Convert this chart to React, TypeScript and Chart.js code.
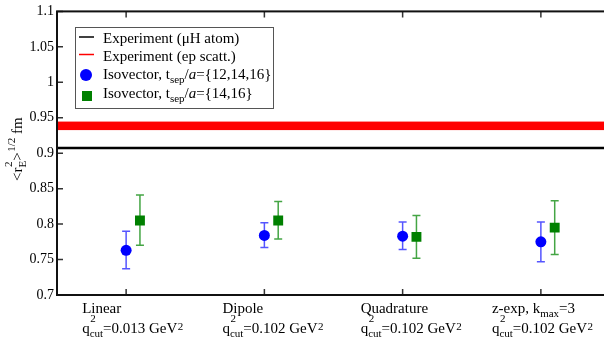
import React, { useEffect, useRef } from "react";
import { Chart, registerables } from "chart.js";

Chart.register(...registerables);

// ---- data ----
const categories = ["Linear", "Dipole", "Quadrature", "z-exp"];
const categoryExtra = ["", "", "", "kmax=3"];
const qcutValues = ["0.013", "0.102", "0.102", "0.102"];

const blueValues = [0.763, 0.784, 0.783, 0.775];
const blueLow = [0.737, 0.767, 0.764, 0.747];
const blueHigh = [0.790, 0.802, 0.803, 0.803];

const greenValues = [0.805, 0.805, 0.782, 0.795];
const greenLow = [0.770, 0.779, 0.752, 0.757];
const greenHigh = [0.841, 0.832, 0.812, 0.833];

const expMuH = 0.9073;
const expEpLow = 0.9326;
const expEpHigh = 0.9446;

const yTicks = [0.7, 0.75, 0.8, 0.85, 0.9, 0.95, 1, 1.05, 1.1];

// ---- layout / style ----
const FONT = '"Liberation Serif", "Times New Roman", serif';
const BLUE = "#0000ff";
const BLUE_ERR = "#5555ff";
const GREEN = "#008000";
const GREEN_ERR = "#44a544";
const GREEN_OFFSET = 0.1;
const labelShift = [-44, -42, -42, -49];

type Seg = { t?: string; sub?: string; sup?: string; it?: boolean; supUp?: number };

function drawRich(
  ctx: CanvasRenderingContext2D,
  segs: Seg[],
  x: number,
  y: number,
  size: number,
  draw = true
): number {
  let cx = x;
  const small = Math.round(size * 0.7);
  for (const s of segs) {
    if (s.t) {
      ctx.font = `${s.it ? "italic " : ""}${size}px ${FONT}`;
      if (draw) ctx.fillText(s.t, cx, y);
      cx += ctx.measureText(s.t).width;
    }
    let w = 0;
    ctx.font = `${small}px ${FONT}`;
    if (s.sup) {
      const up = s.supUp !== undefined ? s.supUp : 0.42;
      if (draw) ctx.fillText(s.sup, cx + 0.5, y - size * up);
      w = Math.max(w, ctx.measureText(s.sup).width + 0.5);
    }
    if (s.sub) {
      if (draw) ctx.fillText(s.sub, cx, y + size * 0.28);
      w = Math.max(w, ctx.measureText(s.sub).width);
    }
    cx += w;
  }
  return cx - x;
}

const overlayPlugin = {
  id: "overlay",
  beforeDatasetsDraw(chart: any) {
    const { ctx, chartArea, scales } = chart;
    const xs = scales.x;
    const ys = scales.y;
    ctx.save();
    // red band
    const yTop = ys.getPixelForValue(expEpHigh);
    const yBot = ys.getPixelForValue(expEpLow);
    ctx.fillStyle = "#ff0000";
    ctx.fillRect(chartArea.left, yTop, chartArea.right - chartArea.left, yBot - yTop);
    // black line
    ctx.strokeStyle = "#000";
    ctx.lineWidth = 2.6;
    const yl = ys.getPixelForValue(expMuH);
    ctx.beginPath();
    ctx.moveTo(chartArea.left, yl);
    ctx.lineTo(chartArea.right, yl);
    ctx.stroke();
    // error bars
    const drawErr = (xv: number, lo: number, hi: number, color: string) => {
      const px = xs.getPixelForValue(xv);
      const p1 = ys.getPixelForValue(lo);
      const p2 = ys.getPixelForValue(hi);
      ctx.strokeStyle = color;
      ctx.lineWidth = 1.5;
      ctx.beginPath();
      ctx.moveTo(px, p1);
      ctx.lineTo(px, p2);
      ctx.moveTo(px - 4, p1);
      ctx.lineTo(px + 4, p1);
      ctx.moveTo(px - 4, p2);
      ctx.lineTo(px + 4, p2);
      ctx.stroke();
    };
    categories.forEach((_, i) => {
      drawErr(i + 1, blueLow[i], blueHigh[i], BLUE_ERR);
      drawErr(i + 1 + GREEN_OFFSET, greenLow[i], greenHigh[i], GREEN_ERR);
    });
    ctx.restore();
  },
  afterDraw(chart: any) {
    const { ctx, chartArea, scales } = chart;
    const xs = scales.x;
    const ys = scales.y;
    const { left, right, top, bottom } = chartArea;
    ctx.save();
    // ticks (inward)
    ctx.strokeStyle = "#333";
    ctx.lineWidth = 1.5;
    ctx.beginPath();
    categories.forEach((_, i) => {
      const px = xs.getPixelForValue(i + 1);
      ctx.moveTo(px, bottom);
      ctx.lineTo(px, bottom - 6);
      ctx.moveTo(px, top);
      ctx.lineTo(px, top + 6);
    });
    yTicks.forEach((v) => {
      const py = ys.getPixelForValue(v);
      ctx.moveTo(left, py);
      ctx.lineTo(left + 6, py);
      ctx.moveTo(right, py);
      ctx.lineTo(right - 6, py);
    });
    ctx.stroke();
    // frame
    ctx.strokeStyle = "#111";
    ctx.lineWidth = 2;
    ctx.strokeRect(left, top, right - left, bottom - top);

    // legend
    ctx.fillStyle = "#fff";
    ctx.fillRect(76, 28, 197, 80);
    ctx.strokeStyle = "#555";
    ctx.lineWidth = 1;
    ctx.strokeRect(75.5, 27.5, 198, 81);
    ctx.lineWidth = 1.5;
    ctx.strokeStyle = "#000";
    ctx.beginPath();
    ctx.moveTo(79, 37);
    ctx.lineTo(94, 37);
    ctx.stroke();
    ctx.strokeStyle = "#ff0000";
    ctx.beginPath();
    ctx.moveTo(79, 54.5);
    ctx.lineTo(94, 54.5);
    ctx.stroke();
    ctx.fillStyle = BLUE;
    ctx.beginPath();
    ctx.arc(86, 75, 6, 0, Math.PI * 2);
    ctx.fill();
    ctx.fillStyle = GREEN;
    ctx.fillRect(82, 91, 10, 10);

    ctx.fillStyle = "#000";
    ctx.textAlign = "left";
    ctx.textBaseline = "alphabetic";
    const lf = 15;
    drawRich(ctx, [{ t: "Experiment (μH atom)" }], 103, 43, lf);
    drawRich(ctx, [{ t: "Experiment (ep scatt.)" }], 103, 60.5, lf);
    drawRich(ctx, [{ t: "Isovector, t", sub: "sep" }, { t: "/" }, { t: "a", it: true }, { t: "={12,14,16}" }], 103, 79, lf);
    drawRich(ctx, [{ t: "Isovector, t", sub: "sep" }, { t: "/" }, { t: "a", it: true }, { t: "={14,16}" }], 103, 97.5, lf);

    // x labels
    const xf = 15;
    categories.forEach((c, i) => {
      const px = xs.getPixelForValue(i + 1) + labelShift[i];
      if (categoryExtra[i]) {
        drawRich(ctx, [{ t: c + ", k", sub: "max" }, { t: "=3" }], px, 312.5, xf);
      } else {
        drawRich(ctx, [{ t: c }], px, 312.5, xf);
      }
      drawRich(
        ctx,
        [{ t: "q", sup: "2", sub: "cut", supUp: 0.72 }, { t: "=" + qcutValues[i] + " GeV", sup: "2", supUp: 0.2 }],
        px,
        333,
        xf
      );
    });

    // y title
    const tf = 15;
    const titleSegs: Seg[] = [{ t: "<r", sup: "2", sub: "E", supUp: 0.7 }, { t: ">", sup: "1/2", supUp: 0.45 }, { t: " fm" }];
    const tw = drawRich(ctx, titleSegs, 0, 0, tf, false);
    ctx.translate(22, (top + bottom) / 2 - 4);
    ctx.rotate(-Math.PI / 2);
    drawRich(ctx, titleSegs, -tw / 2, 0, tf);
    ctx.restore();
  },
};

export default function App() {
  const ref = useRef<HTMLCanvasElement>(null);
  useEffect(() => {
    document.body.style.margin = "0";
    document.body.style.overflow = "hidden";
    const canvas = ref.current!;
    const chart = new Chart(canvas, {
      type: "scatter",
      data: {
        datasets: [
          {
            label: "blue",
            data: blueValues.map((v, i) => ({ x: i + 1, y: v })),
            backgroundColor: BLUE,
            borderColor: BLUE,
            pointStyle: "circle",
            pointRadius: 5.5,
            borderWidth: 0,
          },
          {
            label: "green",
            data: greenValues.map((v, i) => ({ x: i + 1 + GREEN_OFFSET, y: v })),
            backgroundColor: GREEN,
            borderColor: GREEN,
            pointStyle: "rect",
            pointRadius: 7,
            borderWidth: 0,
          },
        ],
      },
      options: {
        responsive: false,
        animation: false,
        events: [],
        layout: { padding: { top: 10, right: 10, left: 0, bottom: 0 } },
        plugins: { legend: { display: false }, tooltip: { enabled: false } },
        scales: {
          x: {
            type: "linear",
            min: 0.5,
            max: 4.5,
            grid: { display: false },
            border: { display: false },
            ticks: { display: false },
            afterFit: (s: any) => {
              s.height = 44;
            },
          },
          y: {
            type: "linear",
            min: 0.7,
            max: 1.1,
            grid: { display: false, drawTicks: false },
            border: { display: false },
            ticks: {
              stepSize: 0.05,
              padding: 3,
              color: "#000",
              font: { family: FONT, size: 14 },
              callback: (v: any) => String(+Number(v).toFixed(2)),
            },
            afterFit: (s: any) => {
              s.width = 57;
            },
          },
        },
      },
      plugins: [overlayPlugin],
    });
    return () => chart.destroy();
  }, []);
  return (
    <div style={{ position: "fixed", left: 0, top: 0, width: 604, height: 339, overflow: "hidden", background: "#fff" }}>
      <canvas ref={ref} width={620} height={339} style={{ width: 620, height: 339, display: "block" }} />
    </div>
  );
}
